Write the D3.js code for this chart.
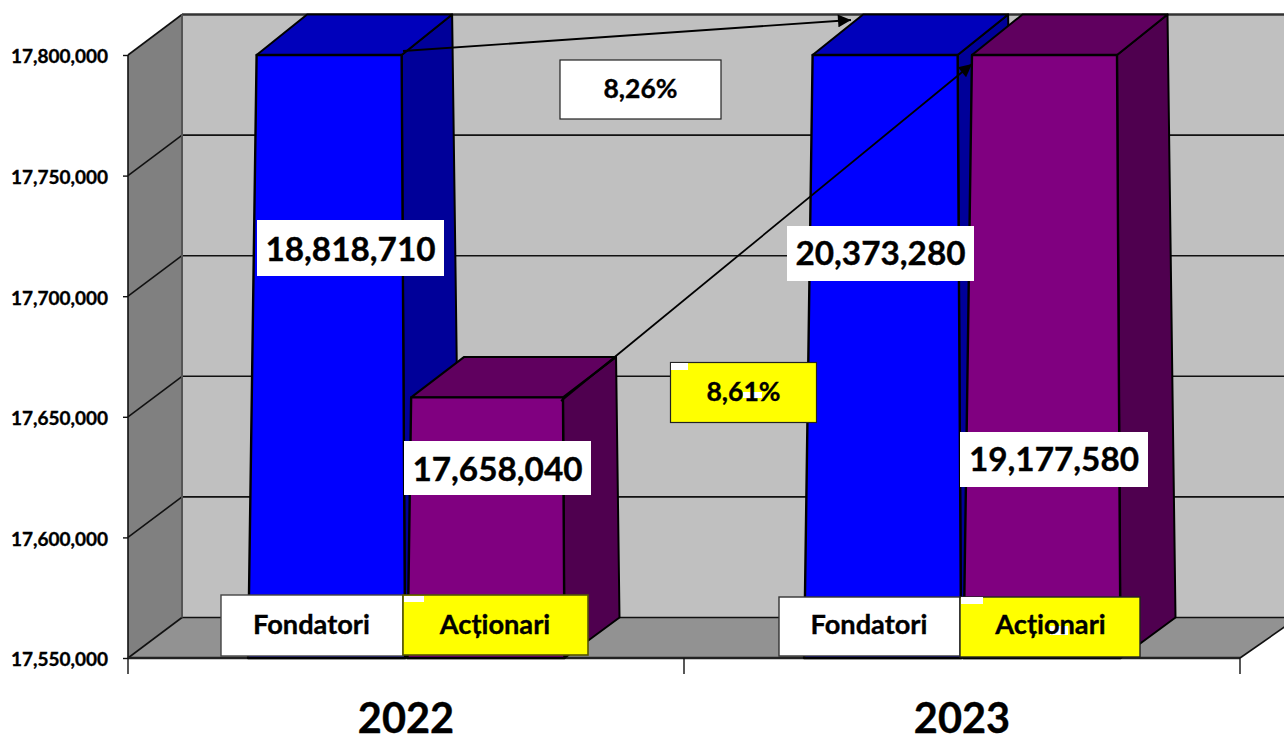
<!DOCTYPE html>
<html>
<head>
<meta charset="utf-8">
<script src="https://cdn.jsdelivr.net/npm/d3@7"></script>
<style>
html,body{margin:0;padding:0;background:#fff;overflow:hidden}
text{font-family:Lato,"Open Sans",sans-serif;font-weight:700;fill:#000;stroke:#000;stroke-width:0.35px}
</style>
</head>
<body>
<svg id="c" width="1284" height="736"></svg>
<script>
// ---- data ----
const years = ["2022", "2023"];
const seriesNames = ["Fondatori", "Acționari"];
const fondatori = [18818710, 20373280];
const actionari = [17658040, 19177580];
const axisDomain = [17550000, 17800000];
const growthLabels = ["8,26%", "8,61%"];

// ---- scales ----
const svg = d3.select("#c");
const y = d3.scaleLinear().domain(axisDomain).range([658, 55]);
const x0 = d3.scaleBand().domain(years).range([128, 1240]);
// position of each series inside its year's band
const x1 = d3.scaleBand().domain(seriesNames).range([128.6, 433]).paddingInner(0.09);
const fmt = d3.format(",");
const yTicks = d3.range(axisDomain[0], axisDomain[1] + 1, 50000);

// ---- geometry ----
const D = {dx: 54, dy: -40.5};          // depth of the 3D walls
const back = v => y(v) + D.dy;
const cx = 128, cxBack = cx + D.dx, cxEnd = 1240;
const line = d3.line();
const poly = (g, pts, fill, stroke, sw) => g.append("path")
  .attr("d", line(pts) + "Z").attr("fill", fill)
  .attr("stroke", stroke || "none").attr("stroke-width", sw || 0)
  .attr("stroke-linejoin", "round");
const seg = (g, a, b, stroke, sw) => g.append("line")
  .attr("x1", a[0]).attr("y1", a[1]).attr("x2", b[0]).attr("y2", b[1])
  .attr("stroke", stroke).attr("stroke-width", sw);

const yTop = y(axisDomain[1]), yBot = y(axisDomain[0]);
const [vMin, vMax] = axisDomain;

// ---- walls ----
const walls = svg.append("g");
poly(walls, [[cxBack, back(vMax)], [1300, back(vMax)], [1300, back(vMin)], [cxBack, back(vMin)]], "#c0c0c0");
poly(walls, [[cx, y(vMax)], [cxBack, back(vMax)], [cxBack, back(vMin)], [cx, y(vMin)]], "#808080");
poly(walls, [[cx, y(vMin)], [cxBack, back(vMin)], [cxEnd + 58, back(vMin)], [cxEnd, y(vMin)]], "#929292");

// gridlines on both walls
yTicks.forEach(v => {
  if (v !== vMax) seg(walls, [cxBack, back(v)], [1284, back(v)], "#111", 1.6);
  seg(walls, [cx, y(v)], [cxBack, back(v)], "#111", 1.6);
});
seg(walls, [cxBack, back(vMax)], [1284, back(vMax)], "#333", 2.4);
seg(walls, [cxBack, back(vMax)], [cxBack, back(vMin)], "#555", 2);
seg(walls, [cx, y(vMax)], [cx, y(vMin)], "#111", 1.6);
seg(walls, [cx, y(vMin)], [cxEnd, y(vMin)], "#222", 2.4);
seg(walls, [cxEnd, y(vMin)], [cxEnd + 58, back(vMin)], "#111", 1.6);

// ---- bars, clipped to the axis range as in the source chart ----
const faces = {
  Fondatori: {front: "#0000ff", top: "#0000bb", side: "#000099"},
  "Acționari": {front: "#800080", top: "#60005f", side: "#4f004f"}
};
const tl = 8.5, tr = 3.5, depth0 = 50.5, depth1 = 55;
const tOf = py => (py - yTop) / (yBot - yTop);
const lx = (x, py) => x - tl * tOf(py);
const rx = (x, py) => x + tr * tOf(py);
const dep = py => depth0 + (depth1 - depth0) * tOf(py);

const barsG = svg.append("g");
const table = [];
years.forEach((yr, i) => {
  table.push({year: yr, series: seriesNames[0], value: fondatori[i]});
  table.push({year: yr, series: seriesNames[1], value: actionari[i]});
});
table.forEach(d => {
  const xl = x0(d.year) + x1(d.series);
  const xr = xl + x1.bandwidth();
  const top = y(Math.min(d.value, vMax));
  const f = faces[d.series];
  const dyD = -40.5;
  const A = [lx(xl, top), top], B = [rx(xr, top), top];
  const C = [rx(xr, yBot), yBot], E = [lx(xl, yBot), yBot];
  const depT = dep(top), depB = dep(yBot);
  poly(barsG, [B, [B[0] + depT, top + dyD], [C[0] + depB, yBot + dyD], C], f.side, "#000", 2);
  poly(barsG, [A, [A[0] + depT, top + dyD], [B[0] + depT, top + dyD], B], f.top, "#000", 2);
  poly(barsG, [A, B, C, E], f.front, "#000", 2.4);
});

// ---- axes ----
const yAxis = d3.axisLeft(y).tickValues(yTicks).tickFormat(fmt).tickSize(5).tickPadding(15);
const yg = svg.append("g").attr("transform", `translate(${cx},0)`).call(yAxis);
yg.select(".domain").remove();
yg.selectAll("line").attr("stroke", "#111").attr("stroke-width", 1.4);
yg.selectAll("text").attr("dy", "0.42em").style("font-size", "19px").style("font-family", "Lato").style("font-weight", 700);

const xEdges = [cx, cx + x0.step(), cx + 2 * x0.step()];
xEdges.forEach(xe => seg(svg, [xe, yBot], [xe, yBot + 16], "#111", 1.4));
const xAxis = d3.axisBottom(x0).tickSize(0).tickPadding(0);
const xg = svg.append("g").attr("transform", `translate(0,${yBot})`).call(xAxis);
xg.select(".domain").remove();
xg.selectAll("text").attr("dy", 0).attr("y", 75).attr("dominant-baseline", "auto")
  .style("font-size", "41.5px").style("font-family", "Lato").style("font-weight", 700);

// ---- arrows ----
svg.append("defs").append("marker").attr("id", "ah")
  .attr("viewBox", "0 0 10 10").attr("refX", 10).attr("refY", 5)
  .attr("markerWidth", 15).attr("markerHeight", 13).attr("markerUnits", "userSpaceOnUse")
  .attr("orient", "auto").append("path").attr("d", "M0,0L10,5L0,10Z").attr("fill", "#000");
const arrows = svg.append("g");
arrows.append("line").attr("x1", 403).attr("y1", 51).attr("x2", 851).attr("y2", 20)
  .attr("stroke", "#000").attr("stroke-width", 1.8).attr("marker-end", "url(#ah)");
arrows.append("line").attr("x1", 561).attr("y1", 401).attr("x2", 972).attr("y2", 64)
  .attr("stroke", "#000").attr("stroke-width", 1.8).attr("marker-end", "url(#ah)");

// ---- text boxes ----
function box(g, x, yy, w, h, fill, stroke, sw, label, size, tx, ty) {
  g.append("rect").attr("x", x).attr("y", yy).attr("width", w).attr("height", h)
    .attr("fill", fill).attr("stroke", stroke).attr("stroke-width", sw);
  return () => {
    g.append("text").attr("x", tx).attr("y", ty).attr("text-anchor", "middle")
      .style("font-size", size + "px").text(label);
  };
}
const boxes = svg.append("g");

// bar value labels
const valueBoxes = [
  {v: fondatori[0], r: [257, 220, 187, 56], ty: 261},
  {v: actionari[0], r: [404, 441, 187, 54], ty: 481},
  {v: fondatori[1], r: [787, 226, 187, 55], ty: 265},
  {v: actionari[1], r: [960, 432, 188, 55], ty: 471}
];
valueBoxes.forEach(b => {
  box(boxes, b.r[0], b.r[1], b.r[2], b.r[3], "#fff", "none", 0, fmt(b.v), 33.3,
      b.r[0] + b.r[2] / 2, b.ty)();
});

// growth boxes
box(boxes, 560, 60, 161, 59, "#fff", "#222", 1.2, growthLabels[0], 26.5, 640.5, 98)();
const g2 = box(boxes, 670.5, 362.5, 146, 60, "#ffff00", "#222", 1.2, growthLabels[1], 26.5, 743.5, 401);
boxes.append("rect").attr("x", 671).attr("y", 363).attr("width", 17).attr("height", 7).attr("fill", "#fff");
boxes.append("rect").attr("x", 743).attr("y", 392).attr("width", 19).attr("height", 6).attr("fill", "#fff");
g2();

// legend style boxes
box(boxes, 221, 595, 182, 61, "#fff", "#444", 1.4, seriesNames[0], 27.2, 311.5, 634)();
const a1 = box(boxes, 403, 595, 185, 60, "#ffff00", "#555500", 1.6, seriesNames[1], 27.2, 495, 634);
boxes.append("rect").attr("x", 404).attr("y", 596).attr("width", 20).attr("height", 6).attr("fill", "#fff");
a1();
box(boxes, 779, 597, 181, 59, "#fff", "#333", 1.4, seriesNames[0], 27.2, 869, 634)();
const a2 = box(boxes, 960, 597, 180, 60, "#ffff00", "#222", 1.4, seriesNames[1], 27.2, 1050.5, 634);
boxes.append("rect").attr("x", 961).attr("y", 597).attr("width", 22).attr("height", 7).attr("fill", "#fff");
boxes.append("rect").attr("x", 1050).attr("y", 626).attr("width", 18).attr("height", 9).attr("fill", "#fff");
a2();
</script>
</body>
</html>
